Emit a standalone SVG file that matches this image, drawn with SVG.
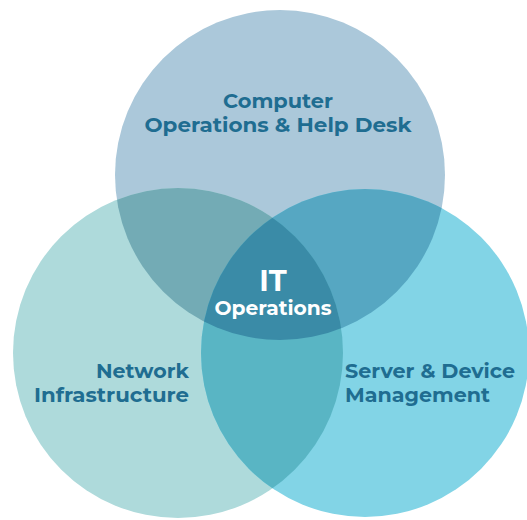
<svg xmlns="http://www.w3.org/2000/svg" width="527" height="520" viewBox="0 0 527 520">
<defs>
<style>
.lbl{font-family:Montserrat,"Open Sans","Liberation Sans",sans-serif;font-weight:700;fill:#1f6d91;font-size:19.5px}
.ctr{font-family:Montserrat,"Open Sans","Liberation Sans",sans-serif;font-weight:700;fill:#ffffff}
</style>
<clipPath id="cTop"><circle cx="280" cy="175" r="165"/></clipPath>
<clipPath id="cLeft"><circle cx="178" cy="353" r="165"/></clipPath>
<clipPath id="cRight"><circle cx="365" cy="353" r="164"/></clipPath>
</defs>
<rect width="527" height="520" fill="#ffffff"/>
<g id="node-computer-ops">
<circle cx="280" cy="175" r="165" fill="#abc8da"/>
</g>
<g id="node-network">
<circle cx="178" cy="353" r="165" fill="#aedadb"/>
</g>
<g id="node-server">
<circle cx="365" cy="353" r="164" fill="#82d4e6"/>
</g>
<g id="overlaps">
<circle cx="178" cy="353" r="165" fill="#73abb5" clip-path="url(#cTop)"/>
<circle cx="365" cy="353" r="164" fill="#56a7c2" clip-path="url(#cTop)"/>
<circle cx="365" cy="353" r="164" fill="#59b5c4" clip-path="url(#cLeft)"/>
<g clip-path="url(#cTop)"><circle cx="365" cy="353" r="164" fill="#3a8ba7" clip-path="url(#cLeft)"/></g>
</g>
<g id="labels">
<text class="lbl" x="278" y="108" text-anchor="middle" textLength="110" lengthAdjust="spacingAndGlyphs">Computer</text>
<text class="lbl" x="278" y="132" text-anchor="middle" textLength="267" lengthAdjust="spacingAndGlyphs">Operations &amp; Help Desk</text>
<text class="lbl" x="189" y="378" text-anchor="end" textLength="93" lengthAdjust="spacingAndGlyphs">Network</text>
<text class="lbl" x="189" y="402" text-anchor="end" textLength="155" lengthAdjust="spacingAndGlyphs">Infrastructure</text>
<text class="lbl" x="345" y="378" textLength="170" lengthAdjust="spacingAndGlyphs">Server &amp; Device</text>
<text class="lbl" x="345" y="402" textLength="145" lengthAdjust="spacingAndGlyphs">Management</text>
</g>
<g id="node-it-operations">
<text class="ctr" x="273" y="291" text-anchor="middle" font-size="29">IT</text>
<text class="ctr" x="273" y="315" text-anchor="middle" font-size="19.5" textLength="117" lengthAdjust="spacingAndGlyphs">Operations</text>
</g>
</svg>
